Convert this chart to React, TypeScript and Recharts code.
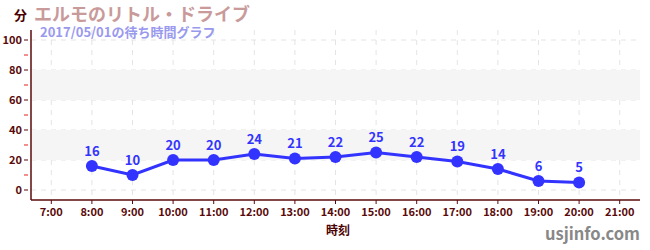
import React from 'react';
import { LineChart, Line, XAxis, YAxis, CartesianGrid, ReferenceArea, LabelList } from 'recharts';

const hours = [8, 9, 10, 11, 12, 13, 14, 15, 16, 17, 18, 19, 20];
const waits = [16, 10, 20, 20, 24, 21, 22, 25, 22, 19, 14, 6, 5];
const xTicks = [7, 8, 9, 10, 11, 12, 13, 14, 15, 16, 17, 18, 19, 20, 21];
const yTicks = [0, 10, 20, 30, 40, 50, 60, 70, 80, 90, 100];
const yGrid = [0, 20, 40, 60, 80, 100];
const bands = [[20, 40], [60, 80]];

const data = hours.map((h, i) => ({ hour: h, wait: waits[i] }));

const FONT = '"Noto Sans CJK JP", "Noto Sans", sans-serif';
const AXIS = '#5a0a0a';

const YTick = (props: any) => {
  const { x, y, payload } = props;
  const v = payload.value;
  const major = v % 20 === 0;
  return (
    <g>
      <line x1={x + 1} x2={x + 5} y1={y} y2={y} stroke={major ? AXIS : '#e02020'} strokeWidth={1} />
      {major && (
        <text x={x - 1} y={y} dy={4} textAnchor="end" fill={AXIS} fontSize={11} fontWeight="bold" fontFamily={FONT}>
          {v}
        </text>
      )}
    </g>
  );
};

const XTick = (props: any) => {
  const { x, y, payload } = props;
  return (
    <g>
      <line x1={x} x2={x} y1={y - 8} y2={y - 4} stroke={AXIS} strokeWidth={1} />
      <text x={x} y={y} dy={8} textAnchor="middle" fill={AXIS} fontSize={11} fontWeight="bold" fontFamily={FONT}>
        {`${payload.value}:00`}
      </text>
    </g>
  );
};

export default function App() {
  return (
    <div style={{ position: 'absolute', left: 0, top: 0, width: 650, height: 250, background: '#fff', fontFamily: FONT }}>
      <LineChart width={650} height={250} data={data} margin={{ top: 30, right: 10, bottom: 0, left: 0 }}>
        {bands.map(([a, b]) => (
          <ReferenceArea key={a} y1={a} y2={b} fill="#f5f5f5" fillOpacity={1} stroke="none" ifOverflow="hidden" />
        ))}
        <CartesianGrid stroke="#e4e4e4" strokeDasharray="5 5" horizontalValues={yGrid} verticalValues={xTicks} />
        <XAxis
          dataKey="hour"
          type="number"
          domain={[6.5, 21.5]}
          ticks={xTicks}
          interval={0}
          height={50}
          axisLine={{ stroke: AXIS, strokeWidth: 1.5 }}
          tickLine={false}
          tick={<XTick />}
        />
        <YAxis
          type="number"
          domain={[-6.67, 106.67]}
          ticks={yTicks}
          interval={0}
          width={31}
          axisLine={{ stroke: AXIS, strokeWidth: 1.5 }}
          tickLine={false}
          tick={<YTick />}
        />
        <Line
          dataKey="wait"
          stroke="#3333ff"
          strokeWidth={3}
          dot={{ r: 6, fill: '#3333ff', stroke: '#3333ff', strokeWidth: 0 }}
          isAnimationActive={false}
        >
          <LabelList dataKey="wait" position="top" offset={10} fill="#3333ff" fontSize={13} fontWeight="bold" fontFamily={FONT} />
        </Line>
      </LineChart>
      <div style={{ position: 'absolute', left: 14, top: 6, fontSize: 13, fontWeight: 'bold', color: '#4a0000', lineHeight: '18px' }}>分</div>
      <div style={{ position: 'absolute', left: 34, top: 3, fontSize: 18, fontWeight: 'bold', color: '#c99a9a', whiteSpace: 'nowrap', lineHeight: '20px' }}>
        エルモのリトル・ドライブ
      </div>
      <div style={{ position: 'absolute', left: 40, top: 25, fontSize: 13, fontWeight: 'bold', color: '#9999ee', whiteSpace: 'nowrap', lineHeight: '14px' }}>
        2017/05/01の待ち時間グラフ
      </div>
      <div style={{ position: 'absolute', left: 326, top: 221, fontSize: 12, fontWeight: 'bold', color: '#4a0000', whiteSpace: 'nowrap', lineHeight: '18px' }}>
        時刻
      </div>
      <div style={{ position: 'absolute', left: 545, top: 221, fontSize: 16.5, fontWeight: 'bold', color: '#888', whiteSpace: 'nowrap', lineHeight: '24px' }}>
        usjinfo.com
      </div>
    </div>
  );
}
